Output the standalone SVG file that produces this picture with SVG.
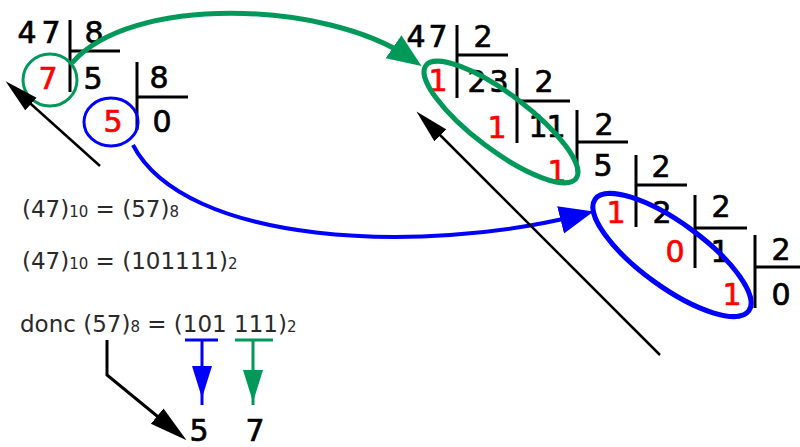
<svg xmlns="http://www.w3.org/2000/svg" width="800" height="447" viewBox="0 0 800 447">
<style>
.d{font-family:"DejaVu Sans",Verdana,sans-serif;font-size:30px;fill:#000;stroke:#000;stroke-width:0.7;text-anchor:middle}
.r{fill:#ff0000;stroke:#ff0000}
.bar{stroke:#000;stroke-width:3;fill:none}
.t{font-family:"DejaVu Sans",Verdana,sans-serif;font-size:23px;fill:#2a2a2a}
.s{font-size:15px}
.g{stroke:#00995a;fill:none}
.b{stroke:#0000ff;fill:none}
.k{stroke:#000;fill:none}
</style>
<defs>
<marker id="mg" markerUnits="userSpaceOnUse" markerWidth="36" markerHeight="30" refX="20" refY="14" orient="auto"><path d="M0,0 L34,14 L0,28 z" fill="#00995a"/></marker>
<marker id="mb" markerUnits="userSpaceOnUse" markerWidth="36" markerHeight="30" refX="20" refY="14" orient="auto"><path d="M0,0 L34,14 L0,28 z" fill="#0000ff"/></marker>
<marker id="mk" markerUnits="userSpaceOnUse" markerWidth="36" markerHeight="22" refX="12" refY="8.5" orient="auto"><path d="M0,0 L34,8.5 L0,17 z" fill="#000"/></marker>
<marker id="mk2" markerUnits="userSpaceOnUse" markerWidth="40" markerHeight="24" refX="14" refY="10" orient="auto"><path d="M0,0 L38,10 L0,20 z" fill="#000"/></marker>
<path id="dn" d="M-10,0 L10,0 L0,32 z"/>
</defs>

<g id="octal-div-1">
<text class="d" x="27" y="43">4</text><text class="d" x="51" y="43">7</text>
<text class="d" x="94" y="43">8</text>
<path class="bar" d="M70,20 V92 M70,51 H120"/>
<text class="d r" x="48" y="89">7</text>
<text class="d" x="93" y="89">5</text>
</g>
<g id="octal-div-2">
<text class="d" x="159" y="88">8</text>
<path class="bar" d="M137,62 V130 M137,97 H188"/>
<text class="d r" x="113" y="132">5</text>
<text class="d" x="162" y="132">0</text>
</g>
<g id="circle-7"><ellipse class="g" cx="50" cy="80" rx="27" ry="26" stroke-width="3"/></g>
<g id="circle-5"><ellipse class="b" cx="111" cy="122" rx="27" ry="24" stroke-width="3"/></g>

<g id="binary-div">
<text class="d" x="416" y="47">4</text><text class="d" x="438" y="47">7</text>
<text class="d" x="483" y="47">2</text>
<path class="bar" d="M457,25 V98 M457,55 H508"/>
<text class="d r" x="438" y="91">1</text>
<text class="d" x="477" y="92">2</text><text class="d" x="499" y="92">3</text>
<text class="d" x="544" y="92">2</text>
<path class="bar" d="M517,68 V143 M517,101 H570"/>
<text class="d r" x="497" y="138">1</text>
<text class="d" x="538" y="137">1</text><text class="d" x="556" y="137">1</text>
<text class="d" x="604" y="135">2</text>
<path class="bar" d="M577,110 V172 M577,142 H628"/>
<text class="d r" x="557" y="182">1</text>
<text class="d" x="603" y="176">5</text>
<text class="d" x="661" y="177">2</text>
<path class="bar" d="M636,155 V227 M636,185 H687"/>
<text class="d r" x="616" y="223">1</text>
<text class="d" x="662" y="223">2</text>
<text class="d" x="721" y="217">2</text>
<path class="bar" d="M695,195 V268 M695,228 H747"/>
<text class="d r" x="675" y="262">0</text>
<text class="d" x="720" y="262">1</text>
<text class="d" x="781" y="260">2</text>
<path class="bar" d="M755,235 V308 M755,267 H800"/>
<text class="d r" x="732" y="305">1</text>
<text class="d" x="781" y="305">0</text>
</g>
<g id="ellipse-green"><ellipse class="g" cx="501" cy="122" rx="94" ry="28" stroke-width="5" transform="rotate(37 501 122)"/></g>
<g id="ellipse-blue"><ellipse class="b" cx="672" cy="255" rx="95" ry="32" stroke-width="5" transform="rotate(36 672 255)"/></g>

<g id="equations">
<text class="t" x="22" y="217">(47)<tspan class="s">10</tspan> = (57)<tspan class="s">8</tspan></text>
<text class="t" x="22" y="269">(47)<tspan class="s">10</tspan> = (101111)<tspan class="s">2</tspan></text>
<text class="t" x="20" y="332">donc (57)<tspan class="s">8</tspan> = (101 111)<tspan class="s">2</tspan></text>
</g>
<g id="result">
<text class="d" x="199" y="441">5</text><text class="d" x="255" y="441">7</text>
</g>

<g id="connectors">
<path class="g" stroke-width="5" d="M72,63 C130,-5 325,0 410,58" marker-end="url(#mg)"/>
<path class="b" stroke-width="4" d="M133,145 C185,245 420,255 580,215" marker-end="url(#mb)"/>
<path class="k" stroke-width="2.5" d="M100,166 L22,96" marker-end="url(#mk)"/>
<path class="k" stroke-width="2.5" d="M660,355 L432,127" marker-end="url(#mk)"/>
<path class="k" stroke-width="3" d="M107,340 V375 L168,425" marker-end="url(#mk2)"/>
<path class="b" stroke-width="3" d="M185,340 H218 M202,340 V405"/>
<use href="#dn" x="202" y="366" fill="#0000ff"/>
<path class="g" stroke-width="3" d="M235,340 H273 M253,340 V405"/>
<use href="#dn" x="253" y="370" fill="#00995a"/>
</g>
</svg>
